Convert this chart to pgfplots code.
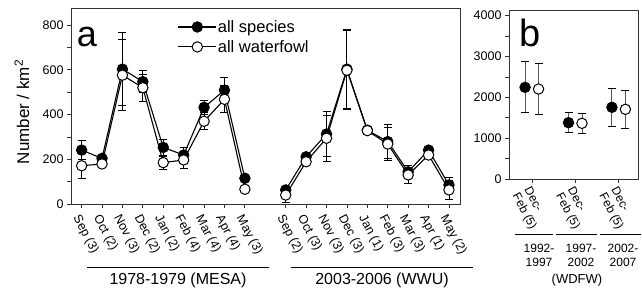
\documentclass[border=0pt]{standalone}
\usepackage{fontspec}
\setmainfont{Liberation Sans}
\usepackage{pgfplots}
\pgfplotsset{compat=1.18}
\pgfplotstableread{
x y e
0 241 42
1 204 10
2 603 162
3 547 50
4 253 36
5 219 34
6 432 31
7 509 55
8 115 8
}\fa
\pgfplotstableread{
x y e
0 171 58
1 179 10
2 576 160
3 520 61
4 185 29
5 197 38
6 370 37
7 468 60
8 66 8
}\oa
\pgfplotstableread{
x y e
10 63 15
11 211 12
12 313 100
13 603 178
14 330 0
15 279 75
16 144 26
17 241 0
18 85 34
}\fb
\pgfplotstableread{
x y e
10 40 35
11 189 12
12 294 102
13 598 176
14 328 0
15 268 75
16 130 40
17 219 0
18 63 42
}\ob
\pgfplotstableread{
x y e
0.84 2245 625
1.84 1379 240
2.84 1756 470
}\fw
\pgfplotstableread{
x y e
1.15 2204 625
2.15 1364 250
3.15 1707 465
}\ow
\begin{document}
\begin{tikzpicture}[x=1pt,y=1pt]
\useasboundingbox (0,0) rectangle (642,290);
\pgfplotsset{
  common/.style={
    scale only axis, anchor=south west,
    axis line style={line width=1pt, black!80},
    tick style={line width=0.8pt, black!80},
    tick align=outside, xtick pos=left, ytick pos=left,
    major tick length=4pt, minor tick length=4pt,
    minor y tick num=1,
    /pgf/number format/assume math mode=true,
    /pgf/number format/1000 sep={},
    yticklabel style={font=\fontsize{12.5}{12.5}\selectfont},
    clip=false,
  },
  ser/.style 2 args={black, line width=1.1pt, mark=*, mark size=5.2pt,
    mark options={line width=1pt, draw=black, fill=#1},
    error bars/y dir=both, error bars/y explicit,
    error bars/error mark=|,
    error bars/error bar style={line width=0.9pt, #2},
    error bars/error mark options={line width=1pt, mark size=4pt, draw=black}},
}
\begin{axis}[common,
  at={(71pt,86pt)}, width=389pt, height=195.7pt,
  xmin=-0.52, xmax=18.54, ymin=0, ymax=875,
  xticklabel shift=4pt,
  ytick={0,200,400,600,800},
  xtick={0,1,2,3,4,5,6,7,8,10,11,12,13,14,15,16,17,18},
  xticklabels={Sep (3),Oct (2),Nov (3),Dec (2),Jan (2),Feb (4),Mar (4),Apr (4),May (3),Sep (2),Oct (3),Nov (3),Dec (3),Jan (1),Feb (3),Mar (3),Apr (1),May (2)},
  xticklabel style={font=\fontsize{12.5}{12.5}\selectfont, rotate=-62, anchor=north west, inner sep=1pt},
  ylabel={Number / km\textsuperscript{2}},
  ylabel style={font=\fontsize{17}{17}\selectfont, at={(axis description cs:-0.126,0.47)}, anchor=center},
  legend style={draw=none, fill=none, at={(0.274,0.945)}, anchor=north west,
    font=\fontsize{16.5}{16.5}\selectfont, row sep=4.5pt, inner sep=0pt,
    nodes={inner sep=1pt}},
  legend cell align=left,
  legend image code/.code={\draw[mark repeat=2,mark phase=2,#1] plot coordinates {(0pt,0pt) (19pt,0pt) (38pt,0pt)};},
]
\addplot[ser={black}{black}] table[x=x,y=y,y error=e] {\fa};
\addlegendentry{all species}
\addplot[forget plot, ser={black}{black}] table[x=x,y=y,y error=e] {\fb};
\addplot[ser={white}{black}] table[x=x,y=y,y error=e] {\oa};
\addlegendentry{all waterfowl}
\addplot[forget plot, ser={white}{black}] table[x=x,y=y,y error=e] {\ob};
\node[font=\fontsize{36}{36}\selectfont, inner sep=0pt] at (axis description cs:0.041,0.851) {a};
\end{axis}
\begin{axis}[common,
  at={(509pt,111pt)}, width=129pt, height=168pt,
  xmin=0.47, xmax=3.44, ymin=0, ymax=4115,
  xticklabel shift=1pt,
  ytick={0,1000,2000,3000,4000},
  xtick={1,2,3},
  xticklabels={{Dec-\\Feb (5)},{Dec-\\Feb (5)},{Dec-\\Feb (5)}},
  xticklabel style={font=\fontsize{12}{13.5}\selectfont, rotate=-62, anchor=north west, align=left, inner sep=1pt},
]
\addplot[only marks, ser={black}{black!65}] table[x=x,y=y,y error=e] {\fw};
\addplot[only marks, ser={white}{black!65}] table[x=x,y=y,y error=e] {\ow};
\node[font=\fontsize{38}{38}\selectfont, inner sep=0pt] at (axis description cs:0.163,0.872) {b};
\end{axis}
\draw[line width=0.9pt] (87,23) -- (269,23);
\node[font=\fontsize{16}{16}\selectfont] at (178,10) {1978-1979 (MESA)};
\draw[line width=0.9pt] (291,23) -- (473,23);
\node[font=\fontsize{16}{16}\selectfont] at (382,10) {2003-2006 (WWU)};
\draw[line width=0.9pt] (515,56) -- (553,56);
\draw[line width=0.9pt] (556,56) -- (597,56);
\draw[line width=0.9pt] (600,56) -- (641,56);
\node[font=\fontsize{12}{14}\selectfont, align=center] at (539,35) {1992-\\1997};
\node[font=\fontsize{12}{14}\selectfont, align=center] at (581,35) {1997-\\2002};
\node[font=\fontsize{12}{14}\selectfont, align=center] at (623,35) {2002-\\2007};
\node[font=\fontsize{13}{13}\selectfont] at (577,10) {(WDFW)};
\end{tikzpicture}
\end{document}
